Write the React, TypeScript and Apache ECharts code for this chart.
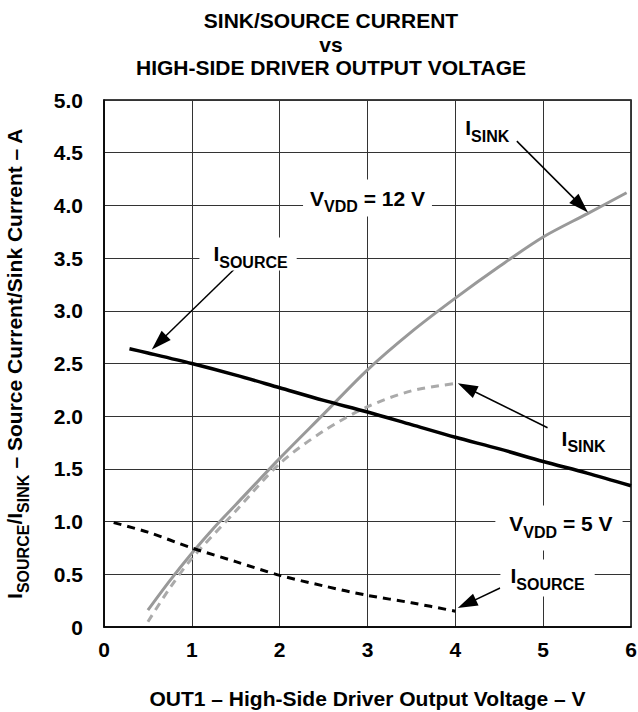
import React, { useEffect, useRef } from 'react';
import * as echarts from 'echarts';

const FONT = "'Liberation Sans', Arial, Helvetica, sans-serif";

// ---- text ----
const titleText = 'SINK/SOURCE CURRENT\nvs\nHIGH-SIDE DRIVER OUTPUT VOLTAGE';
const xAxisTitle = 'OUT1 – High-Side Driver Output Voltage – V';
const yAxisTitle = '{m|I}{s|SOURCE}{m|/I}{s|SINK}{m| – Source Current/Sink Current – A}';

// ---- axes ----
const xMin = 0, xMax = 6, xStep = 1;
const yMin = 0, yMax = 5, yStep = 0.5;

// ---- data ----
// VDD = 12 V, source current (black solid)
const src12X = [0.29, 0.5, 1, 1.5, 2, 2.5, 3, 3.5, 4, 4.5, 5, 5.5, 6];
const src12Y = [2.64, 2.6, 2.5, 2.39, 2.27, 2.15, 2.04, 1.92, 1.8, 1.69, 1.57, 1.46, 1.34];
// VDD = 12 V, sink current (gray solid)
const sink12X = [0.5, 0.75, 1, 1.25, 1.5, 2, 2.5, 3, 3.5, 4, 4.5, 5, 5.5, 5.95];
const sink12Y = [0.16, 0.44, 0.7, 0.94, 1.16, 1.6, 2.02, 2.44, 2.8, 3.12, 3.42, 3.7, 3.92, 4.12];
// VDD = 5 V, sink current (gray dashed)
const sink5X = [0.5, 0.75, 1, 1.5, 2, 2.5, 3, 3.5, 4];
const sink5Y = [0.05, 0.37, 0.65, 1.1, 1.55, 1.86, 2.09, 2.24, 2.31];
// VDD = 5 V, source current (black dashed)
const src5X = [0.11, 0.5, 1, 1.5, 2, 2.5, 3, 3.5, 4];
const src5Y = [0.99, 0.9, 0.75, 0.62, 0.49, 0.39, 0.3, 0.23, 0.15];

// ---- annotations (data coordinates) ----
const labelTexts = [
  '{m|I}{s|SINK}',
  '{m|V}{s|VDD}{m| = 12 V}',
  '{m|I}{s|SOURCE}',
  '{m|I}{s|SINK}',
  '{m|V}{s|VDD}{m| = 5 V}',
  '{m|I}{s|SOURCE}',
];
const labelX = [4.34, 3.0, 1.64, 5.46, 5.18, 5.05];
const labelY = [4.72, 4.07, 3.54, 1.76, 0.94, 0.465];
const labelPad = [
  [2, 4, 0, 8],
  [8, 7, 2, 7],
  [6, 9, 0, 14],
  [0, 2, 0, 2],
  [8, 10, 10, 14],
  [6, 10, 4, 10],
];
const arrowFromX = [4.7, 1.515, 5.05, 4.51];
const arrowFromY = [4.61, 3.42, 1.89, 0.37];
const arrowToX = [5.43, 0.626, 4.13, 4.13];
const arrowToY = [4.0, 2.7, 2.27, 0.22];

const zip = (xs: number[], ys: number[]) => xs.map((x, i) => [x, ys[i]]);

const rich = {
  m: { fontFamily: FONT, fontWeight: 'bold', fontSize: 21, lineHeight: 24, color: '#000', verticalAlign: 'top' },
  s: { fontFamily: FONT, fontWeight: 'bold', fontSize: 16, color: '#000', verticalAlign: 'top', padding: [11, 0, 0, 0] },
};

function buildOption() {
  const lineBase = { type: 'line', showSymbol: false, symbol: 'none', smooth: 0.3, silent: true };
  return {
    animation: false,
    backgroundColor: '#fff',
    title: {
      text: titleText,
      left: 326,
      top: 4,
      textAlign: 'center',
      textStyle: { fontFamily: FONT, fontWeight: 'bold', fontSize: 21, lineHeight: 23.5, color: '#000' },
    },
    grid: {
      left: 104, right: 7, top: 100, bottom: 85,
      outerBoundsMode: 'none',
      containLabel: false,
      show: true, borderColor: '#000', borderWidth: 1.5, backgroundColor: 'transparent',
    },
    xAxis: {
      type: 'value', min: xMin, max: xMax, interval: xStep,
      name: xAxisTitle, nameLocation: 'middle', nameGap: 61,
      nameTextStyle: { fontFamily: FONT, fontWeight: 'bold', fontSize: 21, color: '#000' },
      axisLine: { show: true, lineStyle: { color: '#000', width: 1.5 } },
      axisTick: { show: false },
      splitLine: { show: true, lineStyle: { color: '#333', width: 1 } },
      axisLabel: { fontFamily: FONT, fontWeight: 'bold', fontSize: 21, color: '#000', margin: 12 },
    },
    yAxis: {
      type: 'value', min: yMin, max: yMax, interval: yStep,
      name: yAxisTitle, nameLocation: 'middle', nameGap: 73, nameRotate: 90,
      nameTextStyle: { rich },
      axisLine: { show: true, lineStyle: { color: '#000', width: 1.5 } },
      axisTick: { show: false },
      splitLine: { show: true, lineStyle: { color: '#333', width: 1 } },
      axisLabel: {
        fontFamily: FONT, fontWeight: 'bold', fontSize: 21, color: '#000', margin: 21,
        formatter: (v: number) => (v === 0 ? '0' : v.toFixed(1)),
      },
    },
    series: [
      {
        ...lineBase, name: 'Isink 12V', z: 3, data: zip(sink12X, sink12Y),
        lineStyle: { color: '#999', width: 3 },
      },
      {
        ...lineBase, name: 'Isink 5V', z: 3, data: zip(sink5X, sink5Y),
        lineStyle: { color: '#aaa', width: 3, type: [8, 6] },
      },
      {
        ...lineBase, name: 'Isource 5V', z: 4, data: zip(src5X, src5Y),
        lineStyle: { color: '#000', width: 3, type: [8, 6] },
      },
      {
        ...lineBase, name: 'Isource 12V', z: 4, data: zip(src12X, src12Y),
        lineStyle: { color: '#000', width: 3.5 },
        markLine: {
          silent: true,
          symbol: ['none', 'triangle'],
          symbolSize: [13, 20],
          lineStyle: { color: '#000', width: 1.5, type: 'solid' },
          label: { show: false },
          data: arrowFromX.map((x, i) => [
            { coord: [x, arrowFromY[i]] },
            { coord: [arrowToX[i], arrowToY[i]] },
          ]),
        },
        markPoint: {
          silent: true,
          symbol: 'circle',
          symbolSize: 1,
          itemStyle: { color: 'rgba(0,0,0,0)' },
          data: labelTexts.map((t, i) => ({
            coord: [labelX[i], labelY[i]],
            label: {
              show: true,
              position: 'inside',
              formatter: t,
              backgroundColor: '#fff',
              padding: labelPad[i],
              rich,
            },
          })),
        },
      },
    ],
  };
}

export default function App() {
  const ref = useRef<HTMLDivElement>(null);
  useEffect(() => {
    if (!ref.current) return;
    const chart = echarts.init(ref.current, null, { renderer: 'svg' });
    chart.setOption(buildOption() as any);
    return () => chart.dispose();
  }, []);
  return (
    <div
      ref={ref}
      style={{ position: 'absolute', left: 0, top: 0, width: 638, height: 712, background: '#fff' }}
    />
  );
}
